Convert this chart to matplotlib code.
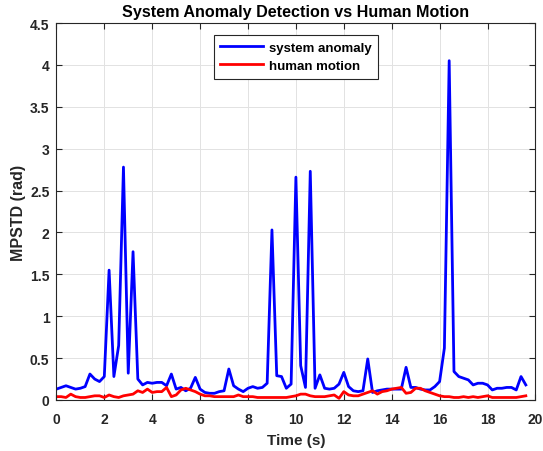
import numpy as np
import matplotlib
matplotlib.use("Agg")
import matplotlib.pyplot as plt
from matplotlib.ticker import FuncFormatter

time_s = np.round(np.arange(0, 99) * 0.2, 1)

system_anomaly = [
    0.13, 0.15, 0.17, 0.15, 0.13, 0.14, 0.16, 0.31, 0.25, 0.22,
    0.28, 1.55, 0.28, 0.65, 2.78, 0.32, 1.77, 0.25, 0.18, 0.21,
    0.20, 0.21, 0.21, 0.17, 0.31, 0.13, 0.15, 0.11, 0.14, 0.27,
    0.13, 0.09, 0.08, 0.08, 0.10, 0.11, 0.37, 0.17, 0.13, 0.10,
    0.14, 0.16, 0.14, 0.15, 0.20, 2.03, 0.29, 0.28, 0.14, 0.19,
    2.66, 0.41, 0.15, 2.73, 0.14, 0.30, 0.14, 0.13, 0.14, 0.19,
    0.33, 0.16, 0.11, 0.10, 0.11, 0.49, 0.09, 0.11, 0.12, 0.13,
    0.13, 0.13, 0.13, 0.39, 0.15, 0.15, 0.13, 0.12, 0.12, 0.16,
    0.22, 0.62, 4.05, 0.34, 0.28, 0.26, 0.24, 0.18, 0.20, 0.20,
    0.18, 0.12, 0.14, 0.14, 0.15, 0.15, 0.12, 0.28, 0.18,
]

human_motion = [
    0.04, 0.04, 0.03, 0.07, 0.04, 0.03, 0.03, 0.04, 0.05, 0.05,
    0.03, 0.06, 0.04, 0.03, 0.05, 0.06, 0.07, 0.11, 0.09, 0.13,
    0.09, 0.10, 0.10, 0.15, 0.04, 0.06, 0.12, 0.14, 0.12, 0.10,
    0.07, 0.05, 0.05, 0.04, 0.04, 0.04, 0.04, 0.04, 0.06, 0.04,
    0.04, 0.04, 0.03, 0.03, 0.03, 0.03, 0.03, 0.03, 0.03, 0.04,
    0.05, 0.07, 0.07, 0.05, 0.04, 0.04, 0.04, 0.05, 0.06, 0.02,
    0.10, 0.06, 0.05, 0.05, 0.07, 0.09, 0.11, 0.07, 0.10, 0.11,
    0.13, 0.14, 0.15, 0.08, 0.09, 0.14, 0.14, 0.11, 0.09, 0.07,
    0.05, 0.04, 0.04, 0.03, 0.03, 0.04, 0.03, 0.04, 0.03, 0.04,
    0.05, 0.03, 0.03, 0.03, 0.03, 0.03, 0.03, 0.04, 0.05,
]

x_ticks = [0, 2, 4, 6, 8, 10, 12, 14, 16, 18, 20]
y_ticks = [0, 0.5, 1, 1.5, 2, 2.5, 3, 3.5, 4, 4.5]

plt.rcParams['font.family'] = ['Liberation Sans', 'DejaVu Sans']
plt.rcParams['font.weight'] = 'bold'

fig = plt.figure(figsize=(5.43, 4.52), dpi=100)
ax = fig.add_axes([56.4/543, 51/452, 479/543, 377/452])

ax.plot(time_s, system_anomaly, color=(0, 0, 1), lw=2.0, label='system anomaly')
ax.plot(time_s, human_motion, color=(1, 0, 0), lw=2.0, label='human motion')

ax.set_xlim(0, 20)
ax.set_ylim(0, 4.5)
ax.set_xticks(x_ticks)
ax.set_yticks(y_ticks)
ax.yaxis.set_major_formatter(FuncFormatter(lambda v, p: '%g' % v))
ax.tick_params(direction='in', top=True, right=True, labelsize=10, length=4,
               width=0.8, color='#262626', labelcolor='#262626')
ax.tick_params(axis='x', pad=9)
ax.tick_params(axis='y', pad=5)
for lab in ax.get_xticklabels() + ax.get_yticklabels():
    lab.set_fontweight('bold')
ax.grid(True, color='#e2e2e2', lw=0.7)
ax.set_axisbelow(True)
for s in ax.spines.values():
    s.set_color('#262626')
    s.set_linewidth(0.8)

ax.set_xlabel('Time (s)', fontsize=11, fontweight='bold', color='#262626', labelpad=5)
ax.set_ylabel('MPSTD (rad)', fontsize=11.5, fontweight='bold', color='#262626', labelpad=3)
ax.set_title('System Anomaly Detection vs Human Motion', fontsize=11.6, fontweight='bold', pad=5)

leg = ax.legend(loc='upper center', bbox_to_anchor=(0.5, 1 - 12/377), fancybox=False,
                framealpha=1, edgecolor='#262626', fontsize=9.5, handlelength=3.2,
                borderpad=0.5, labelspacing=0.45, handletextpad=0.45, borderaxespad=0)
leg.get_frame().set_linewidth(0.8)
for t in leg.get_texts():
    t.set_fontweight('bold')

fig.savefig('out.png', dpi=100)
